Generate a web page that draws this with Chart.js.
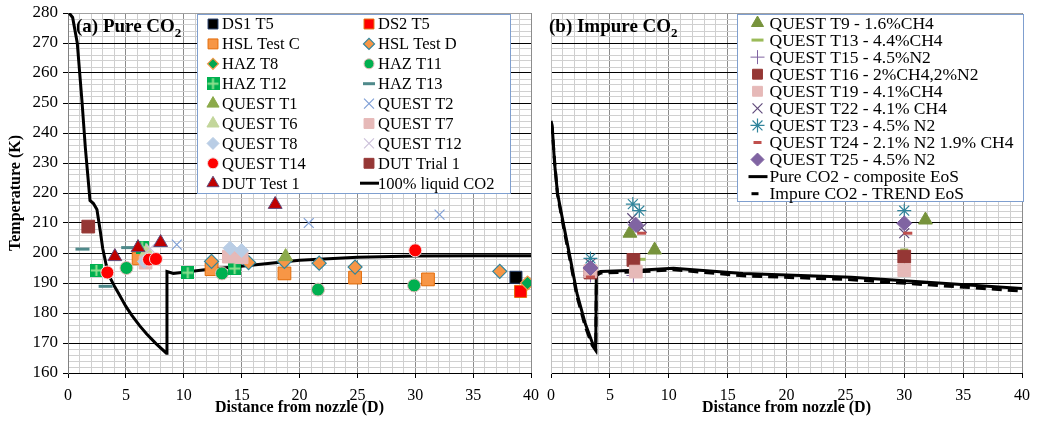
<!DOCTYPE html>
<html><head><meta charset="utf-8">
<script src="https://cdn.jsdelivr.net/npm/chart.js@4.4.1/dist/chart.umd.min.js"></script>
<style>
body{margin:0;background:#fff;}
#wa{position:absolute;left:0;top:0;width:541px;height:422px;}
#wb{position:absolute;left:541px;top:0;width:496px;height:422px;}
</style></head><body>
<div id="wa"><canvas id="ca" width="541" height="422"></canvas></div>
<div id="wb"><canvas id="cb" width="496" height="422"></canvas></div>
<script>
// ---- data, panel (a): [distance D, temperature K]
var ds1T5 = [[38.7, 191.9]];
var ds2T5 = [[39.1, 187.2]];
var hslC = [[6.1, 198.2], [12.4, 194.6], [18.7, 193.2], [24.8, 191.8], [31.1, 191.2]];
var hslD = [[12.4, 197.2], [15.6, 196.8], [18.7, 197.2], [21.7, 196.6], [24.8, 195.3], [37.3, 193.9]];
var hazT8 = [[39.7, 190.0]];
var hazT11 = [[5.05, 195.0], [13.3, 193.2], [21.6, 187.8], [29.9, 189.2]];
var hazT12 = [[2.45, 194.2], [6.4, 202.0], [10.35, 193.4], [14.4, 194.8]];
var hazT13 = [[1.25, 201.3], [3.25, 188.9], [5.2, 201.8]];
var questT1 = [[18.8, 198.8]];
var questT2 = [[9.4, 202.8], [20.8, 210.0], [32.1, 212.8]];
var questT6 = [[6.8, 200.5]];
var questT7 = [[6.7, 196.8], [13.9, 198.8], [15.0, 198.6]];
var questT8 = [[6.6, 197.2], [14.0, 201.6], [15.0, 200.8]];
var questT12 = [[7.1, 201.5]];
var questT14 = [[3.4, 193.5], [7.0, 197.8], [7.6, 198.0], [30.0, 200.9]];
var dutTrial1 = [[1.75, 208.8]];
var dutTest1 = [[4.05, 198.8], [6.05, 201.8], [8.0, 203.5], [17.9, 216.2]];
var liquidCO2 = [[0.1, 280], [0.4, 278.5], [0.8, 270], [1.2, 251], [1.5, 235], [1.8, 222], [1.9, 217.5],
  [2.2, 216.5], [2.5, 214.5], [2.8, 207], [3.0, 201.5], [3.3, 196], [3.6, 192], [4.0, 189], [4.4, 186.3],
  [5.0, 182.2], [5.5, 179.3], [6.2, 175.7], [6.8, 173], [7.6, 169.8], [8.5, 166.6], [8.55, 193.8],
  [9.1, 193.2], [12, 194.5], [15.6, 195.8], [20, 197.6], [25, 198.6], [30, 199], [35, 199.1], [40, 199.1]];

// ---- data, panel (b)
var qT9 = [[6.7, 206.6], [8.8, 201.0], [31.8, 211.0]];
var qT13 = [[7.7, 197.9], [30.0, 201.0]];
var qT15 = [[3.35, 192.5], [7.0, 192.5]];
var qT16 = [[3.35, 193.5], [7.0, 197.7], [30.0, 198.8]];
var qT19 = [[3.35, 194.0], [7.2, 193.8], [30.0, 194.3]];
var qT22 = [[3.35, 196.5], [6.9, 211.6], [7.7, 208.4], [30.0, 206.6]];
var qT23 = [[3.35, 198.2], [6.95, 216.3], [7.5, 214.1], [30.0, 214.1]];
var qT24 = [[3.35, 192.0], [7.7, 206.6], [30.3, 206.6]];
var qT25 = [[3.35, 195.0], [7.2, 209.4], [30.0, 209.9]];
var pureEos = [[0, 244], [0.1, 242.5], [0.3, 230], [0.55, 220], [1.1, 208.8], [1.66, 197.7], [2.2, 186.6],
  [2.9, 176.6], [3.5, 170.2], [3.8, 168.2], [3.85, 193.2], [4.2, 193.8], [7.8, 194.3], [10.4, 194.9],
  [16.3, 193.2], [25.5, 191.9], [40, 188.2]];
var trendEos = [[0, 243], [0.1, 241.5], [0.3, 231], [0.55, 219.5], [1.1, 207.8], [1.66, 196.7], [2.2, 185.6],
  [2.9, 175.6], [3.5, 169.2], [3.8, 167.5], [3.85, 192.5], [4.2, 193.3], [7.8, 193.8], [10.4, 194.4],
  [16.3, 192.4], [25.5, 191.1], [40, 187.3]];

var xTicks = [0, 5, 10, 15, 20, 25, 30, 35, 40];
var yTicks = [160, 170, 180, 190, 200, 210, 220, 230, 240, 250, 260, 270, 280];

var SERIF = '"Liberation Serif", "Times New Roman", serif';

function pts(a) { return a.map(function (p) { return { x: p[0], y: p[1] }; }); }

// square with light plus, for HAZ T12
function plusSquare(s) {
  var c = document.createElement('canvas');
  c.width = s; c.height = s;
  var g = c.getContext('2d');
  g.fillStyle = '#00b050'; g.fillRect(0, 0, s, s);
  g.fillStyle = '#8fe08f';
  g.fillRect(s / 2 - 1, 1, 2, s - 2);
  g.fillRect(1, s / 2 - 1, s - 2, 2);
  return c;
}

function markSet(label, data, style, fill, stroke, r, bw, lr) {
  return {
    label: label, data: pts(data), pointStyle: style, backgroundColor: fill, borderColor: stroke,
    pointRadius: r, pointBorderWidth: bw, showLine: false, legendRadius: lr || r * 0.8
  };
}
function lineSet(label, data, dash) {
  return {
    label: label, data: pts(data), showLine: true, borderColor: '#000', backgroundColor: '#000',
    borderWidth: 3, borderDash: dash || [], pointRadius: 0, tension: 0, order: 100
  };
}

var setsA = [
  markSet('DS1 T5', ds1T5, 'rect', '#000000', '#1f3864', 8.5, 1, 7),
  markSet('DS2 T5', ds2T5, 'rect', '#ff0000', '#e46c0a', 8.5, 1, 7),
  markSet('HSL Test C', hslC, 'rect', '#f79646', '#e36c09', 9, 1, 7),
  markSet('HSL Test D', hslD, 'rectRot', '#f79646', '#31859c', 7, 1.2, 5.5),
  markSet('HAZ T8', hazT8, 'rectRot', '#00a651', '#f79646', 7, 1.2, 5.5),
  markSet('HAZ T11', hazT11, 'circle', '#00b050', '#e6b9b8', 6.5, 1, 5),
  markSet('HAZ T12', hazT12, plusSquare(13), '#00b050', '#00b050', 7, 0, 7),
  markSet('HAZ T13', hazT13, 'line', '#4f8a8b', '#4f8a8b', 7, 3, 6),
  markSet('QUEST T1', questT1, 'triangle', '#8caa4a', '#8caa4a', 8, 1, 7),
  markSet('QUEST T2', questT2, 'crossRot', '#7f9fd6', '#7f9fd6', 7, 1.2, 7),
  markSet('QUEST T6', questT6, 'triangle', '#c3d69b', '#c3d69b', 8, 1, 7),
  markSet('QUEST T7', questT7, 'rect', '#e6b9b8', '#e6b9b8', 9, 1, 7),
  markSet('QUEST T8', questT8, 'rectRot', '#b9cde5', '#b9cde5', 7, 1, 6),
  markSet('QUEST T12', questT12, 'crossRot', '#ccc1da', '#ccc1da', 7, 1.2, 7),
  markSet('QUEST T14', questT14, 'circle', '#ff0000', '#f2dcdb', 6.5, 1, 5.5),
  markSet('DUT Trial 1', dutTrial1, 'rect', '#953735', '#953735', 9, 1, 7),
  markSet('DUT Test 1', dutTest1, 'triangle', '#c00000', '#604a7b', 8, 1, 7),
  lineSet('100% liquid CO2', liquidCO2)
];
var setsB = [
  markSet('QUEST T9 - 1.6%CH4', qT9, 'triangle', '#77933c', '#77933c', 8, 1, 7),
  markSet('QUEST T13 - 4.4%CH4', qT13, 'line', '#9bbb59', '#9bbb59', 4, 3, 6),
  markSet('QUEST T15 - 4.5%N2', qT15, 'cross', '#8064a2', '#8064a2', 7, 1, 7),
  markSet('QUEST T16 - 2%CH4,2%N2', qT16, 'rect', '#953735', '#953735', 9, 1, 7),
  markSet('QUEST T19 - 4.1%CH4', qT19, 'rect', '#e6b9b8', '#e6b9b8', 9, 1, 7),
  markSet('QUEST T22 - 4.1% CH4', qT22, 'crossRot', '#604a7b', '#604a7b', 7, 1.2, 7),
  markSet('QUEST T23 - 4.5% N2', qT23, 'star', '#31859c', '#31859c', 7, 1.2, 7),
  markSet('QUEST T24 - 2.1% N2 1.9% CH4', qT24, 'line', '#c0504d', '#c0504d', 4.5, 3, 4),
  markSet('QUEST T25 - 4.5% N2', qT25, 'rectRot', '#8064a2', '#8064a2', 7.5, 1, 6.5),
  lineSet('Pure CO2 - composite EoS', pureEos),
  lineSet('Impure CO2 - TREND EoS', trendEos, [10, 6])
];
// later series on top, like the spreadsheet
setsA.forEach(function (d, i) { if (d.order === undefined) d.order = 50 - i; });
setsB.forEach(function (d, i) { if (d.order === undefined) d.order = 50 - i; });

// legend box drawn inside the plot
var boxLegend = {
  id: 'boxLegend',
  afterDatasetsDraw: function (chart, args, o) {
    var ctx = chart.ctx;
    ctx.save();
    ctx.fillStyle = '#fff';
    ctx.fillRect(o.x, o.y, o.w, o.h);
    ctx.strokeStyle = '#7f9fcf'; ctx.lineWidth = 1;
    ctx.strokeRect(o.x + 0.5, o.y + 0.5, o.w, o.h);
    ctx.font = o.size + 'px ' + SERIF;
    ctx.textBaseline = 'middle';
    chart.data.datasets.forEach(function (ds, i) {
      var col = i % o.cols, row = Math.floor(i / o.cols);
      var sx = o.symX + col * o.colW, y = o.row0 + row * o.rowH;
      ctx.save();
      if (ds.showLine) {
        ctx.strokeStyle = '#000'; ctx.lineWidth = 3;
        ctx.setLineDash([]);
        ctx.beginPath();
        if (ds.borderDash && ds.borderDash.length) { ctx.moveTo(sx - 6, y); ctx.lineTo(sx + 1, y); }
        else { ctx.moveTo(sx - 9, y); ctx.lineTo(sx + 10, y); }
        ctx.stroke();
      } else {
        ctx.fillStyle = ds.backgroundColor; ctx.strokeStyle = ds.borderColor;
        ctx.lineWidth = ds.pointBorderWidth;
        Chart.helpers.drawPoint(ctx, { pointStyle: ds.pointStyle, radius: ds.legendRadius, rotation: 0, borderWidth: ds.pointBorderWidth }, sx, y);
      }
      ctx.restore();
      ctx.fillStyle = '#000';
      ctx.fillText(ds.label, sx + o.txtOff, y + 1);
    });
    ctx.restore();
  }
};

var panelTitle = {
  id: 'panelTitle',
  afterDatasetsDraw: function (chart, args, o) {
    var ctx = chart.ctx;
    ctx.save();
    ctx.fillStyle = '#000';
    ctx.textBaseline = 'alphabetic';
    ctx.font = 'bold 19px ' + SERIF;
    ctx.fillText(o.text, o.x, o.y);
    var w = ctx.measureText(o.text).width;
    ctx.font = 'bold 13px ' + SERIF;
    ctx.fillText('2', o.x + w, o.y + 5);
    ctx.restore();
  }
};

function makeScales(showY, yWidth) {
  return {
    x: {
      type: 'linear', min: 0, max: 40,
      afterBuildTicks: function (s) {
        var t = []; for (var v = 0; v <= 40; v++) t.push({ value: v }); s.ticks = t;
      },
      ticks: {
        autoSkip: false, maxRotation: 0, padding: 8, color: '#000',
        font: { family: SERIF, size: 16 },
        callback: function (v) { return xTicks.indexOf(v) >= 0 ? String(v) : ''; }
      },
      grid: {
        color: function (c) { return c.tick && c.tick.value % 5 === 0 ? '#8c8c8c' : '#cfcfcf'; },
        tickColor: function (c) { return c.tick && c.tick.value % 5 === 0 ? '#000' : 'rgba(0,0,0,0)'; },
        tickLength: 5
      },
      border: { color: '#000' },
      title: {
        display: true, text: 'Distance from nozzle (D)', color: '#000',
        font: { family: SERIF, size: 16, weight: 'bold' }, padding: { top: 0, bottom: 5 }
      },
      afterFit: function (s) { s.height = 49; s.paddingLeft = 0; s.paddingRight = 0; }
    },
    y: {
      type: 'linear', min: 160, max: 280,
      afterBuildTicks: function (s) {
        var t = []; for (var v = 160; v <= 280; v += 2) t.push({ value: v }); s.ticks = t;
      },
      ticks: {
        display: showY, autoSkip: false, padding: 5, color: '#000',
        font: { family: SERIF, size: 17 },
        callback: function (v) { return yTicks.indexOf(v) >= 0 ? String(v) : ''; }
      },
      grid: {
        color: function (c) {
          if (!c.tick) return '#d0d0d0';
          if (c.tick.value === 280) return '#a0a0a0';
          return c.tick.value % 10 === 0 ? '#000' : '#d0d0d0';
        },
        tickColor: function (c) { return showY && c.tick && c.tick.value % 10 === 0 ? '#000' : 'rgba(0,0,0,0)'; },
        tickLength: showY ? 5 : 0
      },
      border: { color: showY ? '#808080' : '#c0c0c0' },
      title: {
        display: showY, text: 'Temperature (K)', color: '#000',
        font: { family: SERIF, size: 16, weight: 'bold' }, padding: { top: 6, bottom: 0 }
      },
      afterFit: function (s) { s.width = yWidth; s.paddingTop = 0; s.paddingBottom = 0; }
    }
  };
}

new Chart(document.getElementById('ca'), {
  type: 'scatter',
  data: { datasets: setsA },
  options: {
    responsive: false, animation: false,
    layout: { padding: { left: 0, right: 8, top: 13, bottom: 0 } },
    scales: makeScales(true, 68),
    plugins: {
      legend: { display: false }, tooltip: { enabled: false },
      boxLegend: { x: 197, y: 14, w: 313, h: 179, cols: 2, colW: 156, symX: 213, row0: 24, rowH: 19.9, txtOff: 9, size: 16.5 },
      panelTitle: { text: '(a) Pure CO', x: 76, y: 32 }
    }
  },
  plugins: [boxLegend, panelTitle]
});

new Chart(document.getElementById('cb'), {
  type: 'scatter',
  data: { datasets: setsB },
  options: {
    responsive: false, animation: false,
    layout: { padding: { left: 0, right: 15, top: 13, bottom: 0 } },
    scales: makeScales(false, 6),
    plugins: {
      legend: { display: false }, tooltip: { enabled: false },
      boxLegend: { x: 196, y: 14, w: 286, h: 187, cols: 1, colW: 0, symX: 216.5, row0: 23, rowH: 17.07, txtOff: 12, size: 17.5 },
      panelTitle: { text: '(b) Impure CO', x: 8, y: 32 }
    }
  },
  plugins: [boxLegend, panelTitle]
});
</script>
</body></html>
